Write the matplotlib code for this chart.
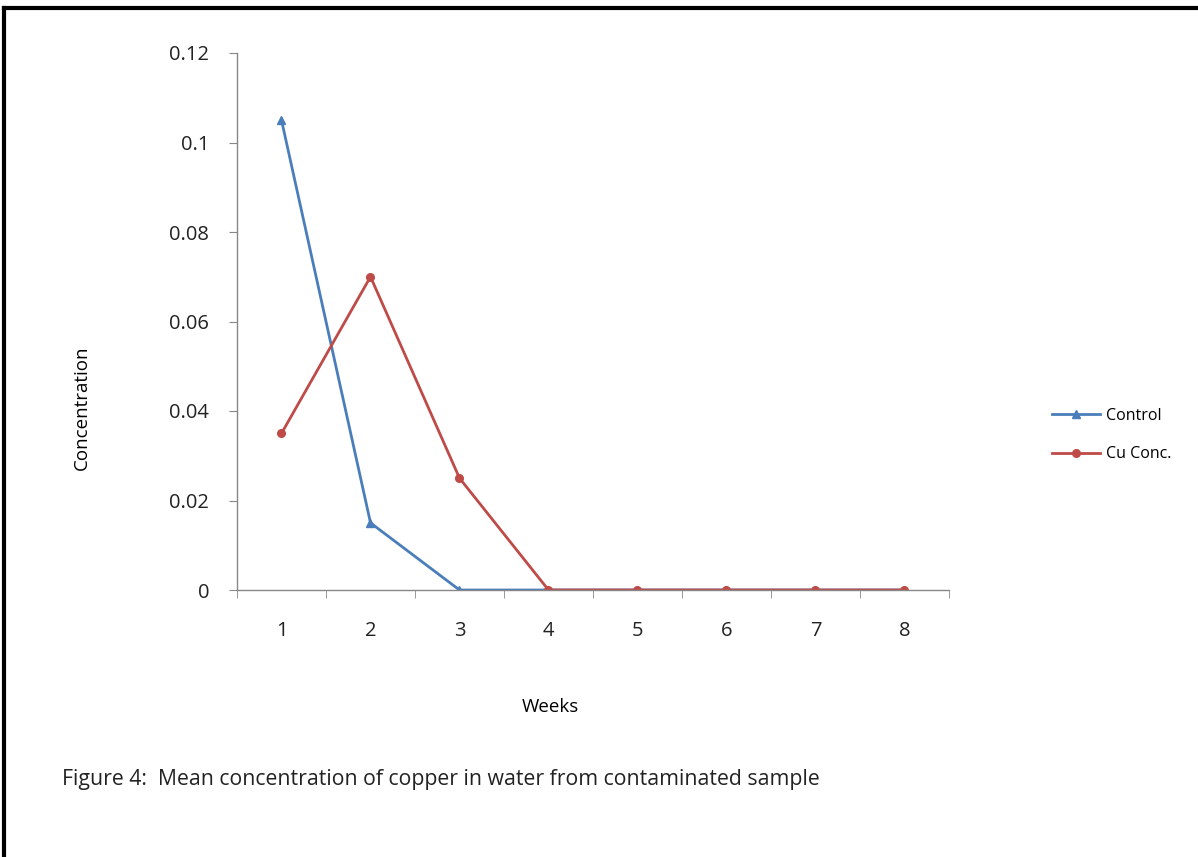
import matplotlib.pyplot as plt
from matplotlib.lines import Line2D

# data
weeks = [1, 2, 3, 4, 5, 6, 7, 8]
control = [0.105, 0.015, 0, 0, 0, 0, 0, 0]
cu_conc = [0.035, 0.07, 0.025, 0, 0, 0, 0, 0]
y_ticks = [0, 0.02, 0.04, 0.06, 0.08, 0.1, 0.12]
y_labels = ["0", "0.02", "0.04", "0.06", "0.08", "0.1", "0.12"]

plt.rcParams['font.family'] = ['Open Sans', 'DejaVu Sans']

W, H = 1198, 857
fig = plt.figure(figsize=(W / 100, H / 100), dpi=100)
ax = fig.add_axes([237 / W, 1 - 590 / H, (949 - 237) / W, (590 - 53) / H])

blue = '#4A7EBB'
red = '#BE4B48'
ax.plot(weeks, control, color=blue, lw=2, marker='^', ms=6, label='Control')
ax.plot(weeks, cu_conc, color=red, lw=2, marker='o', ms=5.5, label='Cu Conc.')

ax.set_xlim(0.5, 8.5)
ax.set_ylim(0, 0.12)
ax.set_yticks(y_ticks)
ax.set_yticklabels(y_labels, fontsize=14.5, color='#222222')
ax.set_xticks(weeks)
ax.set_xticklabels([str(w) for w in weeks], fontsize=14.5, color='#222222')
ax.tick_params(axis='x', length=0, pad=22)
ax.set_xticks([w + 0.5 for w in [0] + weeks], minor=True)
ax.tick_params(axis='x', which='minor', length=6, color='#888888', direction='out')
ax.tick_params(axis='y', length=6, color='#888888', direction='out', pad=14)

for s in ['top', 'right']:
    ax.spines[s].set_visible(False)
for s in ['left', 'bottom']:
    ax.spines[s].set_color('#888888')
    ax.spines[s].set_linewidth(1)
ax.patch.set_visible(False)

fig.text(82 / W, 1 - 408 / H, 'Concentration', rotation=90, ha='center', va='center', fontsize=13.5)
fig.text(550 / W, 1 - 707 / H, 'Weeks', ha='center', va='center', fontsize=13.5)
fig.text(62 / W, 1 - 780 / H, 'Figure 4:  Mean concentration of copper in water from contaminated sample',
         ha='left', va='center', fontsize=15.3, color='#222222')

handles = [Line2D([], [], color=blue, lw=2, marker='^', ms=6),
           Line2D([], [], color=red, lw=2, marker='o', ms=5.5)]
fig.legend(handles, ['Control', 'Cu Conc.'], loc='center left',
           bbox_to_anchor=(1038 / W, 1 - 435 / H), frameon=False,
           fontsize=11.5, handlelength=3.0, labelspacing=1.4, handletextpad=0.35)

# black frame on top and left like the screenshot
fig.add_artist(Line2D([4 / W, 4 / W], [0, 1 - 8 / H], color='black', lw=3, transform=fig.transFigure))
fig.add_artist(Line2D([4 / W, 1], [1 - 8 / H, 1 - 8 / H], color='black', lw=3, transform=fig.transFigure))

fig.savefig('out.png', dpi=100)
